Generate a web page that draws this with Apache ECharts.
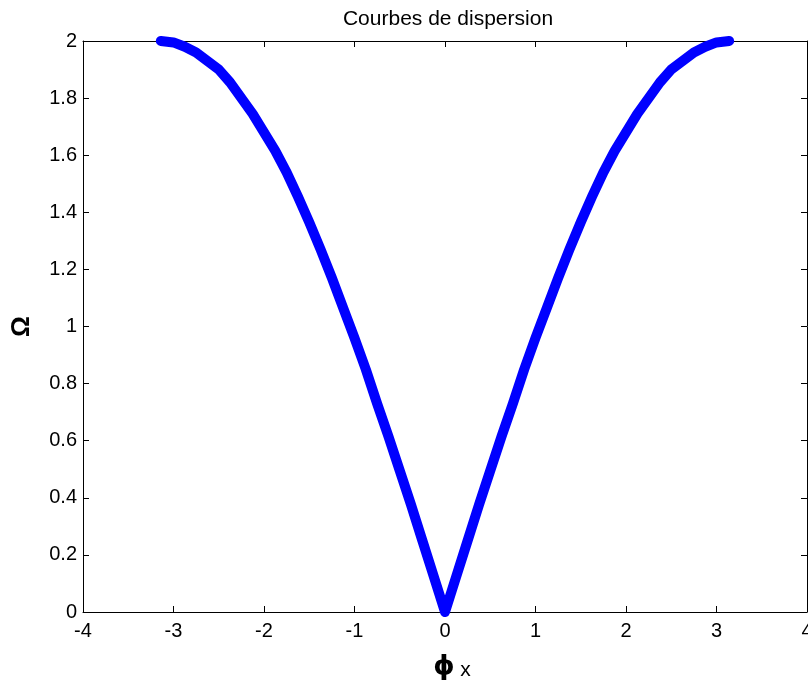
<!DOCTYPE html>
<html>
<head>
<meta charset="utf-8">
<script src="https://cdn.jsdelivr.net/npm/echarts@6/dist/echarts.min.js"></script>
<style>
  html, body { margin: 0; padding: 0; background: #ffffff; }
  #chart { width: 808px; height: 682px; }
</style>
</head>
<body>
<div id="chart"></div>
<script>
// Wave number (phi_x) and normalised frequency (Omega) along the dispersion branch
const phiValues = [
  -3.14, -3.0, -2.875, -2.75, -2.625, -2.5, -2.375, -2.25, -2.125, -2.0, -1.875, -1.75, -1.625,
  -1.5, -1.375, -1.25, -1.125, -1.0, -0.875, -0.75, -0.625, -0.5, -0.375, -0.25, -0.125, 0,
  0.125, 0.25, 0.375, 0.5, 0.625, 0.75, 0.875, 1.0, 1.125, 1.25, 1.375, 1.5,
  1.625, 1.75, 1.875, 2.0, 2.125, 2.25, 2.375, 2.5, 2.625, 2.75, 2.875, 3.0, 3.14
];
const omegaValues = [
  2.00, 1.995, 1.98, 1.96, 1.93, 1.90, 1.855, 1.80, 1.745, 1.68, 1.615, 1.54, 1.455,
  1.365, 1.27, 1.17, 1.065, 0.96, 0.85, 0.73, 0.615, 0.495, 0.375, 0.25, 0.125, 0.00,
  0.125, 0.25, 0.375, 0.495, 0.615, 0.73, 0.85, 0.96, 1.065, 1.17, 1.27, 1.365,
  1.455, 1.54, 1.615, 1.68, 1.745, 1.80, 1.855, 1.90, 1.93, 1.96, 1.98, 1.995, 2.00
];

const xTicks = { min: -4, max: 4, interval: 1 };
const yTicks = { min: 0, max: 2, interval: 0.2 };

const points = phiValues.map((p, i) => [p, omegaValues[i]]);

const font = 'Liberation Sans, Arial, sans-serif';
const axisLine = { show: true, onZero: false, lineStyle: { color: '#000', width: 1 } };
const tick = { show: true, inside: true, length: 6, lineStyle: { color: '#000', width: 1 } };

const chart = echarts.init(document.getElementById('chart'), null, { renderer: 'canvas' });
chart.setOption({
  animation: false,
  backgroundColor: '#ffffff',
  title: {
    text: 'Courbes de dispersion',
    left: 443, top: 4, textAlign: 'center',
    textStyle: { fontFamily: font, fontSize: 21, fontWeight: 'normal', color: '#000' }
  },
  grid: { left: 83, right: 1, top: 41, bottom: 70, containLabel: false, outerBoundsMode: 'none' },
  xAxis: [
    {
      type: 'value', position: 'bottom',
      min: xTicks.min, max: xTicks.max, interval: xTicks.interval,
      axisLine, axisTick: tick, splitLine: { show: false },
      axisLabel: { color: '#000', fontFamily: font, fontSize: 20, margin: 9, hideOverlap: false },
      name: '{phi|ϕ} {sub|x}', nameLocation: 'middle', nameGap: 40,
      nameTextStyle: {
        rich: {
          phi: { fontFamily: 'DejaVu Sans, sans-serif', fontSize: 27, fontWeight: 'bold', color: '#000', padding: [0, 0, 0, 14] },
          sub: { fontFamily: font, fontSize: 21, color: '#000', padding: [8, 0, 0, 2] }
        }
      }
    },
    {
      type: 'value', position: 'top',
      min: xTicks.min, max: xTicks.max, interval: xTicks.interval,
      axisLine, axisTick: tick, splitLine: { show: false }, axisLabel: { show: false }
    }
  ],
  yAxis: [
    {
      type: 'value', position: 'left',
      min: yTicks.min, max: yTicks.max, interval: yTicks.interval,
      axisLine, axisTick: tick, splitLine: { show: false },
      axisLabel: { color: '#000', fontFamily: font, fontSize: 20, margin: 6 },
      name: 'Ω', nameLocation: 'middle', nameGap: 48, nameRotate: 90,
      nameTextStyle: { fontFamily: font, fontSize: 26, fontWeight: 'bold', color: '#000' }
    },
    {
      type: 'value', position: 'right',
      min: yTicks.min, max: yTicks.max, interval: yTicks.interval,
      axisLine, axisTick: tick, splitLine: { show: false }, axisLabel: { show: false }
    }
  ],
  series: [
    {
      type: 'line',
      xAxisIndex: 0, yAxisIndex: 0,
      data: points,
      showSymbol: false,
      clip: false,
      lineStyle: { color: '#0000ff', width: 10, cap: 'round', join: 'round' }
    }
  ]
});
</script>
</body>
</html>
